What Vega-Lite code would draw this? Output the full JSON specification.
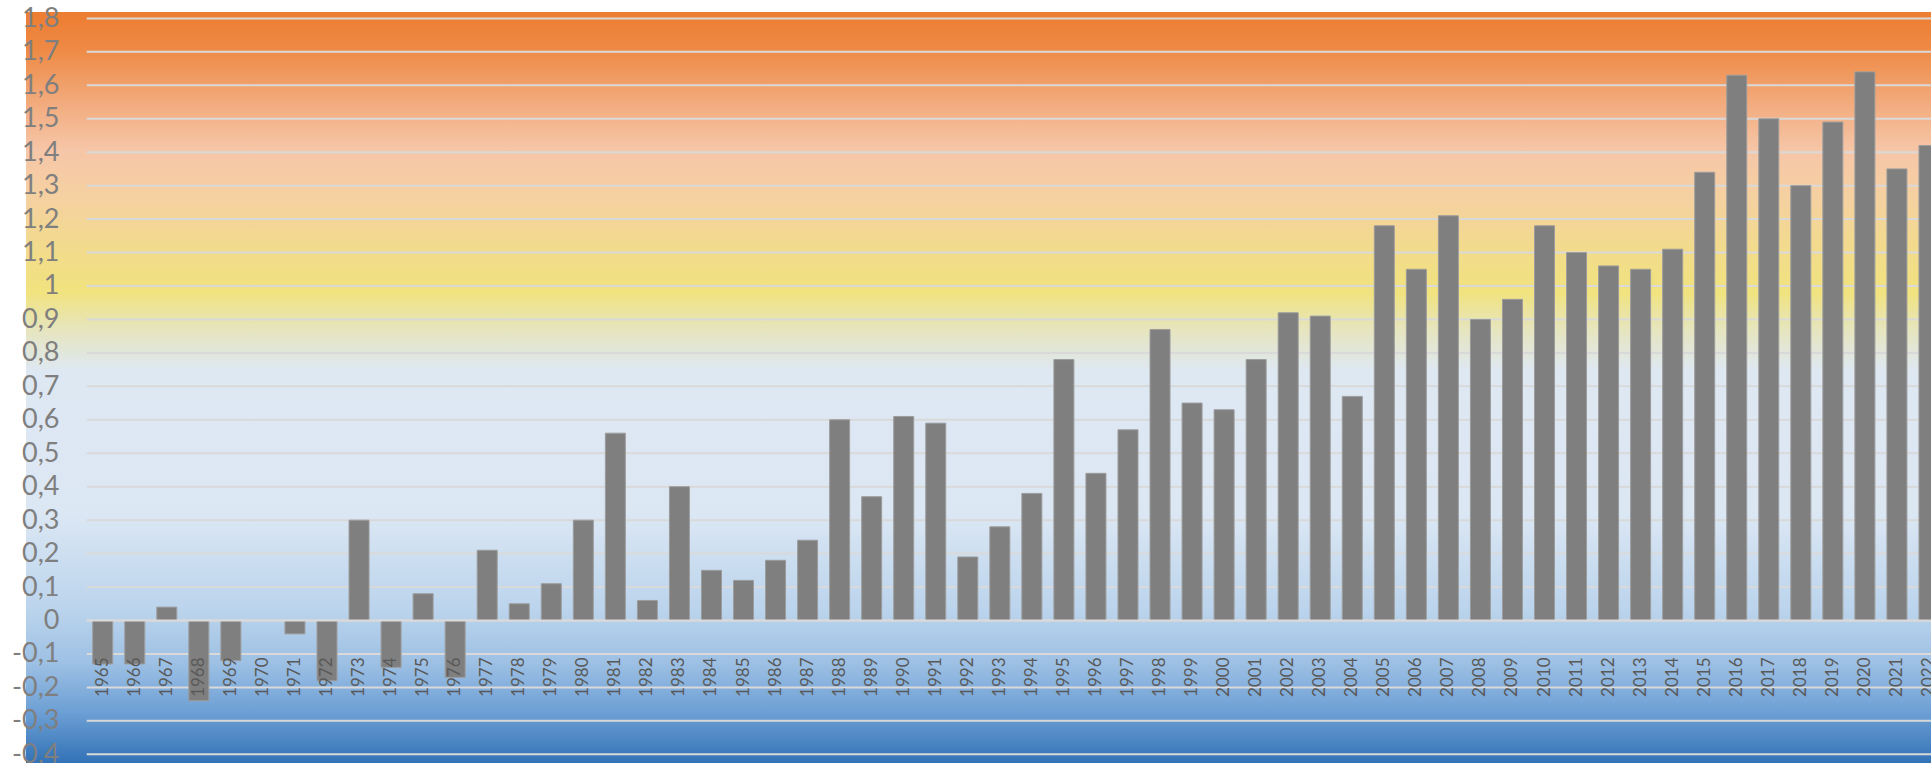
{
  "$schema": "https://vega.github.io/schema/vega-lite/v6.json",
  "width": 1905,
  "height": 751,
  "autosize": {"type": "none"},
  "padding": {"left": 26, "top": 12, "right": 0, "bottom": 0},
  "background": "white",
  "view": {
    "stroke": null,
    "fill": {
      "gradient": "linear",
      "x1": 0, "y1": 0, "x2": 0, "y2": 1,
      "stops": [
        {"offset": 0, "color": "#ED7D31"},
        {"offset": 0.05, "color": "#EE8A45"},
        {"offset": 0.117, "color": "#F2A97A"},
        {"offset": 0.184, "color": "#F6C6A8"},
        {"offset": 0.25, "color": "#F5D1A0"},
        {"offset": 0.316, "color": "#F2DB8C"},
        {"offset": 0.373, "color": "#F1E37E"},
        {"offset": 0.423, "color": "#E6E5BE"},
        {"offset": 0.479, "color": "#DEE8F3"},
        {"offset": 0.667, "color": "#DCE7F4"},
        {"offset": 0.734, "color": "#CADDF0"},
        {"offset": 0.8, "color": "#BAD3EC"},
        {"offset": 0.867, "color": "#9DC0E4"},
        {"offset": 0.933, "color": "#6C9FD4"},
        {"offset": 1, "color": "#3272B6"}
      ]
    }
  },
  "datasets": {
    "temps": [
      {"year": 1965, "value": -0.13}, {"year": 1966, "value": -0.13}, {"year": 1967, "value": 0.04},
      {"year": 1968, "value": -0.24}, {"year": 1969, "value": -0.12}, {"year": 1970, "value": 0},
      {"year": 1971, "value": -0.04}, {"year": 1972, "value": -0.18}, {"year": 1973, "value": 0.3},
      {"year": 1974, "value": -0.14}, {"year": 1975, "value": 0.08}, {"year": 1976, "value": -0.17},
      {"year": 1977, "value": 0.21}, {"year": 1978, "value": 0.05}, {"year": 1979, "value": 0.11},
      {"year": 1980, "value": 0.3}, {"year": 1981, "value": 0.56}, {"year": 1982, "value": 0.06},
      {"year": 1983, "value": 0.4}, {"year": 1984, "value": 0.15}, {"year": 1985, "value": 0.12},
      {"year": 1986, "value": 0.18}, {"year": 1987, "value": 0.24}, {"year": 1988, "value": 0.6},
      {"year": 1989, "value": 0.37}, {"year": 1990, "value": 0.61}, {"year": 1991, "value": 0.59},
      {"year": 1992, "value": 0.19}, {"year": 1993, "value": 0.28}, {"year": 1994, "value": 0.38},
      {"year": 1995, "value": 0.78}, {"year": 1996, "value": 0.44}, {"year": 1997, "value": 0.57},
      {"year": 1998, "value": 0.87}, {"year": 1999, "value": 0.65}, {"year": 2000, "value": 0.63},
      {"year": 2001, "value": 0.78}, {"year": 2002, "value": 0.92}, {"year": 2003, "value": 0.91},
      {"year": 2004, "value": 0.67}, {"year": 2005, "value": 1.18}, {"year": 2006, "value": 1.05},
      {"year": 2007, "value": 1.21}, {"year": 2008, "value": 0.9}, {"year": 2009, "value": 0.96},
      {"year": 2010, "value": 1.18}, {"year": 2011, "value": 1.1}, {"year": 2012, "value": 1.06},
      {"year": 2013, "value": 1.05}, {"year": 2014, "value": 1.11}, {"year": 2015, "value": 1.34},
      {"year": 2016, "value": 1.63}, {"year": 2017, "value": 1.5}, {"year": 2018, "value": 1.3},
      {"year": 2019, "value": 1.49}, {"year": 2020, "value": 1.64}, {"year": 2021, "value": 1.35},
      {"year": 2022, "value": 1.42}
    ],
    "grid": [
      {"value": -0.4}, {"value": -0.3}, {"value": -0.2}, {"value": -0.1}, {"value": 0}, {"value": 0.1}, {"value": 0.2},
      {"value": 0.3}, {"value": 0.4}, {"value": 0.5}, {"value": 0.6}, {"value": 0.7}, {"value": 0.8}, {"value": 0.9},
      {"value": 1}, {"value": 1.1}, {"value": 1.2}, {"value": 1.3}, {"value": 1.4}, {"value": 1.5}, {"value": 1.6},
      {"value": 1.7}, {"value": 1.8}
    ]
  },
  "encoding": {
    "y": {
      "field": "value",
      "type": "quantitative",
      "scale": {"domain": [-0.426, 1.8191], "nice": false, "zero": false},
      "axis": {
        "title": null,
        "orient": "left",
        "offset": -33,
        "values": [-0.4, -0.3, -0.2, -0.1, 0, 0.1, 0.2, 0.3, 0.4, 0.5, 0.6, 0.7, 0.8, 0.9, 1, 1.1, 1.2, 1.3, 1.4, 1.5, 1.6, 1.7, 1.8],
        "tickCount": 23,
        "grid": false,
        "ticks": false,
        "domain": false,
        "labelPadding": 0,
        "labelOverlap": false,
        "labelBound": false,
        "labelFont": "Lato",
        "labelFontSize": 27,
        "labelColor": "#7F7F7F",
        "labelExpr": "replace(toString(round(datum.value * 10) / 10), '.', ',')"
      }
    }
  },
  "layer": [
    {
      "data": {"name": "grid"},
      "mark": {"type": "rule", "color": "#D9D9D9", "strokeWidth": 2},
      "encoding": {
        "x": {"datum": 1965, "type": "ordinal", "bandPosition": -0.3},
        "x2": {"datum": 2022, "bandPosition": 2}
      }
    },
    {
      "data": {"name": "temps"},
      "mark": {"type": "bar", "fill": "#7F7F7F", "stroke": "#9C9C9C", "strokeWidth": 1},
      "encoding": {
        "x": {
          "field": "year",
          "type": "ordinal",
          "scale": {"range": [60.7, 1919], "paddingInner": 0.376, "paddingOuter": 0.188},
          "axis": {
            "title": null,
            "orient": "bottom",
            "offset": -106,
            "zindex": 1,
            "ticks": false,
            "domain": false,
            "grid": false,
            "labelAngle": -90,
            "labelPadding": 0,
            "labelOverlap": false,
            "labelFont": "Lato",
            "labelFontSize": 17,
            "labelColor": "#595959"
          }
        }
      }
    },
    {
      "data": {"name": "grid"},
      "transform": [{"filter": "datum.value == 0"}],
      "mark": {"type": "rule", "color": "#D9D9D9", "strokeWidth": 2},
      "encoding": {
        "x": {"datum": 1965, "type": "ordinal", "bandPosition": -0.3},
        "x2": {"datum": 2022, "bandPosition": 2}
      }
    }
  ]
}
